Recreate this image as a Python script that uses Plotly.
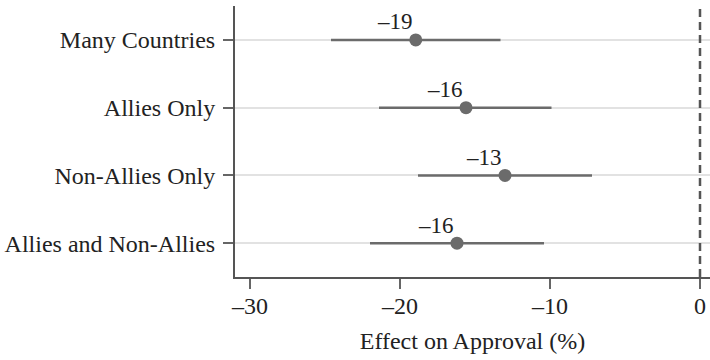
import plotly.graph_objects as go

categories = ["Many Countries", "Allies Only", "Non-Allies Only", "Allies and Non-Allies"]
estimates = [-18.95, -15.6, -13.0, -16.2]
ci_low = [-24.6, -21.4, -18.8, -22.0]
ci_high = [-13.3, -9.9, -7.2, -10.4]
labels = ["\u201319", "\u201316", "\u201313", "\u201316"]
x_tickvals = [-30, -20, -10, 0]
x_ticktext = ["\u201330", "\u201320", "\u201310", "0"]

FONT = "Liberation Serif, Times New Roman, serif"

fig = go.Figure()
fig.add_trace(go.Scatter(
    x=estimates, y=categories, mode="markers",
    marker=dict(size=13, color="#6b6b6b"),
    error_x=dict(type="data", symmetric=False,
                 array=[h - e for h, e in zip(ci_high, estimates)],
                 arrayminus=[e - l for e, l in zip(estimates, ci_low)],
                 color="#6b6b6b", thickness=2.5, width=0),
    showlegend=False, hoverinfo="skip", cliponaxis=False,
))

for x, y, t in zip(estimates, categories, labels):
    fig.add_annotation(x=x, y=y, text=t, showarrow=False, xshift=-21, yshift=18,
                       font=dict(family=FONT, size=23, color="#222"))

fig.add_shape(type="line", x0=0, x1=0, xref="x", y0=0, y1=1, yref="paper",
              line=dict(color="#555", width=2.5, dash="8px,5px"))

fig.update_layout(
    width=710, height=360,
    margin=dict(l=235, r=0, t=6, b=83, autoexpand=False),
    paper_bgcolor="white", plot_bgcolor="white",
    font=dict(family=FONT, size=24, color="#222"),
    xaxis=dict(range=[-31, 0.667], tickvals=x_tickvals, ticktext=x_ticktext,
               automargin=False,
               showgrid=False, zeroline=False, showline=True, linecolor="#555", linewidth=2,
               ticks="outside", ticklen=10, tickwidth=2, tickcolor="#666",
               ticklabelstandoff=-4,
               title=dict(text="Effect on Approval (%)", standoff=14,
                          font=dict(family=FONT, size=24, color="#222"))),
    yaxis=dict(categoryorder="array", categoryarray=categories, autorange=False,
               automargin=False,
               range=[3.5, -0.5], showgrid=True, gridcolor="#e2e2e2", gridwidth=2,
               zeroline=False, showline=True, linecolor="#555", linewidth=2,
               ticks="outside", ticklen=10, tickwidth=2, tickcolor="#666",
               ticklabelstandoff=3),
)

fig.write_html("out.html", config={"displayModeBar": False},
               post_script="document.body.style.margin='0';document.body.style.overflow='hidden';")
